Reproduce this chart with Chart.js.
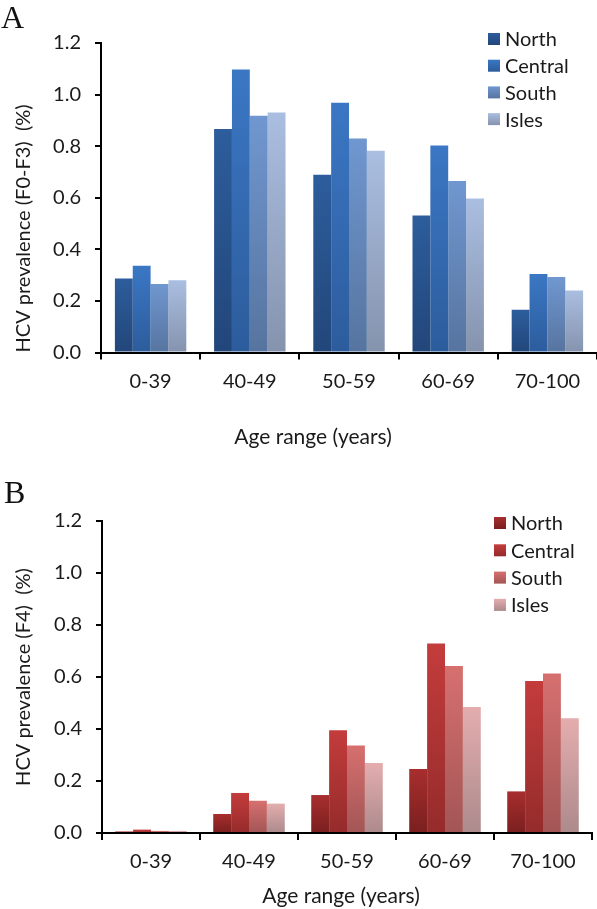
<!DOCTYPE html>
<html>
<head>
<meta charset="utf-8">
<script src="https://cdn.jsdelivr.net/npm/chart.js@4.4.1/dist/chart.umd.min.js"></script>
<style>
  html,body{margin:0;padding:0;background:#fff;}
  body{width:597px;height:909px;position:relative;overflow:hidden;}
  .panel{position:absolute;left:0;width:597px;}
  #p1{top:0;height:460px;}
  #p2{top:460px;height:449px;}
  .letter{position:absolute;font-family:"Liberation Serif","Times New Roman",serif;font-size:32px;color:#111;line-height:1;}
</style>
</head>
<body>
<div class="panel" id="p1"><canvas id="c1" width="597" height="460"></canvas></div>
<div class="panel" id="p2"><canvas id="c2" width="597" height="449"></canvas></div>
<div class="letter" style="left:1px;top:1px;">A</div>
<div class="letter" style="left:4px;top:476px;">B</div>
<script>
// ---- data ----
const categories = ["0-39", "40-49", "50-59", "60-69", "70-100"];
const regions = ["North", "Central", "South", "Isles"];
const yTicks = [0.0, 0.2, 0.4, 0.6, 0.8, 1.0, 1.2];

// Panel A: HCV prevalence (F0-F3) (%)
const f03North   = [0.287, 0.867, 0.689, 0.531, 0.166];
const f03Central = [0.336, 1.097, 0.968, 0.803, 0.304];
const f03South   = [0.266, 0.918, 0.830, 0.665, 0.293];
const f03Isles   = [0.280, 0.931, 0.782, 0.597, 0.240];

// Panel B: HCV prevalence (F4) (%)
const f4North   = [0.006, 0.073, 0.146, 0.246, 0.160];
const f4Central = [0.013, 0.154, 0.395, 0.729, 0.585];
const f4South   = [0.008, 0.124, 0.337, 0.642, 0.613];
const f4Isles   = [0.008, 0.113, 0.269, 0.485, 0.441];

// colours [top, bottom]
const blueCols = [["#2d5d9c", "#22467a"], ["#3b77c4", "#2c5c9c"], ["#7097d0", "#56749f"], ["#aabee1", "#8593ad"]];
const redCols  = [["#a82e2e", "#7a1f1f"], ["#c43c3c", "#952b2b"], ["#d6706f", "#a35555"], ["#e4adae", "#ac8a8c"]];

const FONT = "Lato, 'Open Sans', sans-serif";
const TXT = "#1a1a1a";

function gradFill(cols) {
  return function(ctx) {
    const chart = ctx.chart;
    if (!chart.chartArea || ctx.raw == null) return cols[0];
    const ys = chart.scales.y;
    const yTop = ys.getPixelForValue(ctx.raw);
    const yBot = ys.getPixelForValue(0);
    if (!isFinite(yTop) || Math.abs(yBot - yTop) < 1) return cols[0];
    const g = chart.ctx.createLinearGradient(0, yTop, 0, yBot);
    g.addColorStop(0, cols[0]);
    g.addColorStop(1, cols[1]);
    return g;
  };
}

const legendPlugin = {
  id: 'sideLegend',
  afterDraw(chart, args, opts) {
    const ctx = chart.ctx;
    const area = chart.chartArea;
    ctx.save();
    ctx.font = "20px " + FONT;
    ctx.textBaseline = "middle";
    chart.data.datasets.forEach((ds, i) => {
      const x = area.right - opts.dxRight;
      const y = area.top + opts.dyTop + i * opts.rowGap;
      const g = ctx.createLinearGradient(0, y - 6, 0, y + 6);
      g.addColorStop(0, ds.legendCols[0]);
      g.addColorStop(1, ds.legendCols[1]);
      ctx.fillStyle = g;
      ctx.fillRect(x, y - 6, 12, 12);
      ctx.fillStyle = TXT;
      ctx.textAlign = "left";
      ctx.fillText(ds.label, x + 17, y + 1);
    });
    // x-axis title
    ctx.font = "21px " + FONT;
    ctx.textAlign = "center";
    ctx.fillStyle = TXT;
    ctx.fillText(opts.xTitle, (area.left + area.right) / 2 + opts.xTitleDx, area.bottom + opts.xTitleDy);
    ctx.restore();
  }
};

function makeChart(canvasId, seriesList, cols, yTitle, cfg) {
  const datasets = seriesList.map((vals, i) => ({
    label: regions[i],
    data: vals,
    backgroundColor: gradFill(cols[i]),
    legendCols: cols[i],
    borderWidth: 0,
    barPercentage: 1.0,
    categoryPercentage: cfg.catPct
  }));
  return new Chart(document.getElementById(canvasId), {
    type: 'bar',
    data: { labels: categories, datasets },
    plugins: [legendPlugin],
    options: {
      responsive: false,
      animation: false,
      devicePixelRatio: 1,
      layout: { padding: { top: cfg.padTop, right: cfg.padRight, left: 0, bottom: 0 } },
      plugins: {
        legend: { display: false },
        tooltip: { enabled: false },
        sideLegend: cfg.legend
      },
      scales: {
        x: {
          grid: { display: true, drawOnChartArea: false, drawTicks: true, tickLength: 7, color: "#000", lineWidth: 2, offset: true },
          border: { display: true, color: "#000", width: 2 },
          ticks: { font: { family: FONT, size: 20 }, color: TXT, padding: cfg.xTickPad, maxRotation: 0 },
          title: { display: false },
          afterFit(s) { s.height = cfg.xAxisH; }
        },
        y: {
          min: 0, max: 1.2,
          afterBuildTicks(s) { s.ticks = yTicks.map(v => ({ value: v })); },
          grid: { display: true, drawOnChartArea: false, drawTicks: true, tickLength: 6, color: "#000", lineWidth: 2 },
          border: { display: true, color: "#000", width: 2 },
          ticks: { font: { family: FONT, size: 20 }, color: TXT, padding: 14, callback: v => Number(v).toFixed(1) },
          title: { display: true, text: yTitle, align: cfg.yAlign, font: { family: FONT, size: 20 }, color: TXT, padding: { top: 12, bottom: 0 } },
          afterFit(s) { s.width = cfg.yAxisW; }
        }
      }
    }
  });
}

makeChart('c1', [f03North, f03Central, f03South, f03Isles], blueCols, "HCV prevalence (F0-F3)  (%)", {
  catPct: 0.72, padTop: 43, padRight: 0, xTickPad: 10, xAxisH: 107.5, yAxisW: 101, yAlign: 'start',
  legend: { dxRight: 109, dyTop: -4, rowGap: 26.7, xTitle: "Age range (years)", xTitleDx: -36, xTitleDy: 85 }
});
makeChart('c2', [f4North, f4Central, f4South, f4Isles], redCols, "HCV prevalence (F4)  (%)", {
  catPct: 0.73, padTop: 61, padRight: 5, xTickPad: 10, xAxisH: 76, yAxisW: 102, yAlign: 'center',
  legend: { dxRight: 98, dyTop: 2, rowGap: 27.3, xTitle: "Age range (years)", xTitleDx: -6, xTitleDy: 63 }
});
</script>
</body>
</html>
